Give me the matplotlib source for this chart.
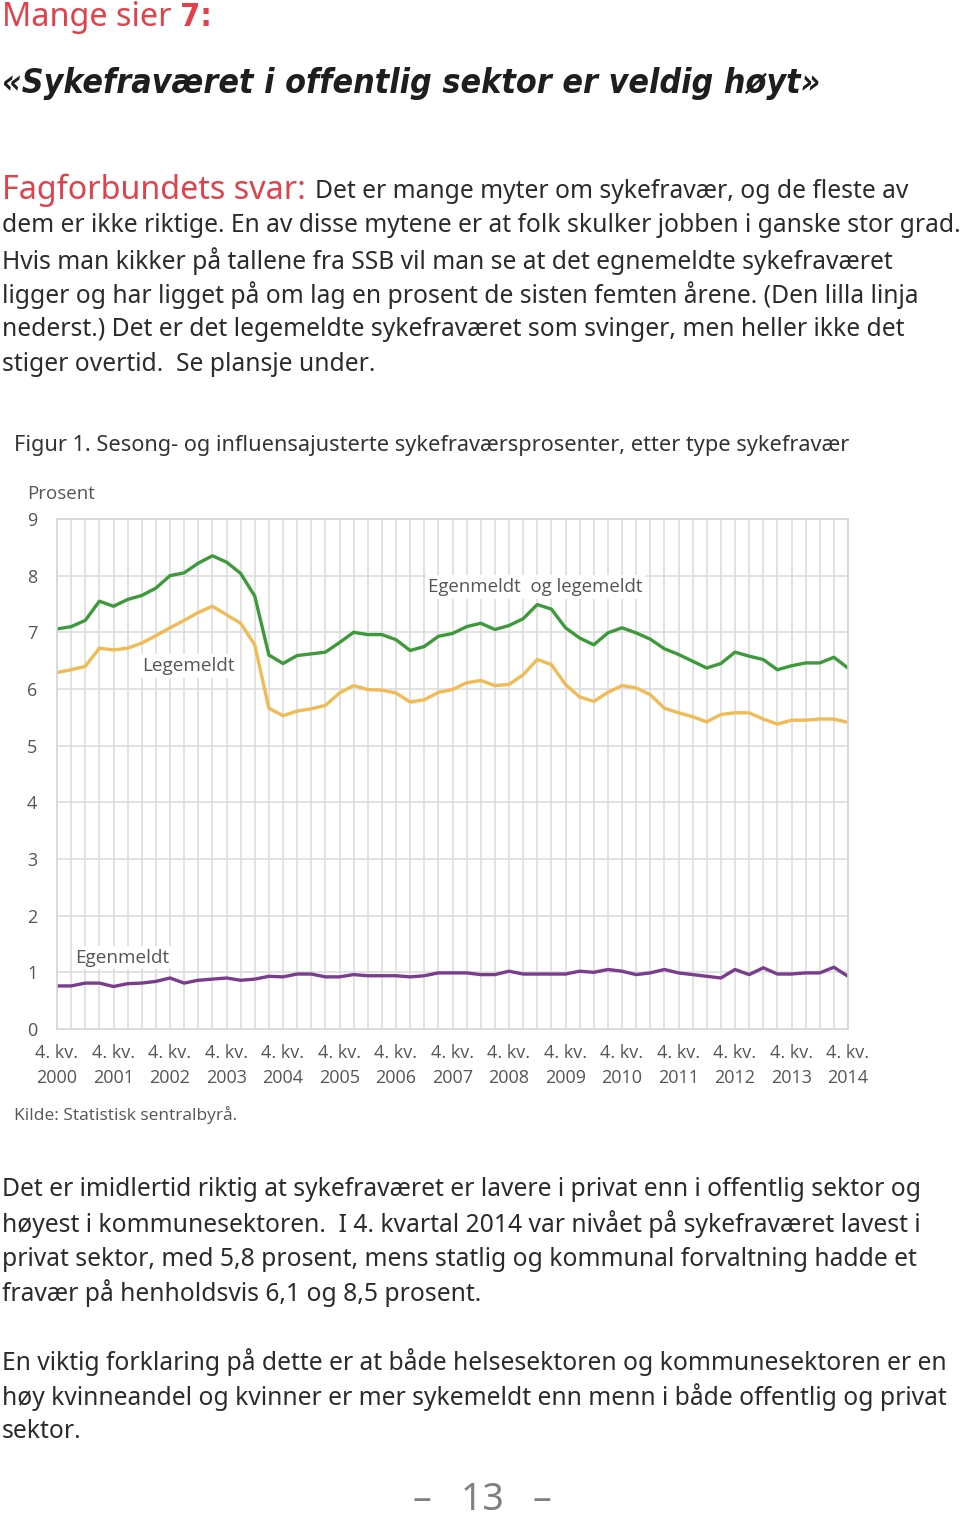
import os
import numpy as np
import matplotlib
matplotlib.use("Agg")
import matplotlib.pyplot as plt
import matplotlib.font_manager as fm

# Sesong- og influensajusterte sykefraværsprosenter, 4. kv. 2000 - 4. kv. 2014
egen_og_lege = [7.06, 7.10, 7.21, 7.55, 7.46, 7.58, 7.65, 7.78, 8.00, 8.05,
                8.22, 8.35, 8.24, 8.04, 7.64, 6.60, 6.45, 6.59, 6.62, 6.65,
                6.82, 7.00, 6.96, 6.96, 6.87, 6.68, 6.75, 6.93, 6.98, 7.10,
                7.16, 7.05, 7.12, 7.24, 7.49, 7.41, 7.08, 6.90, 6.78, 6.99,
                7.08, 6.99, 6.88, 6.71, 6.61, 6.49, 6.37, 6.45, 6.65, 6.58,
                6.52, 6.34, 6.41, 6.46, 6.46, 6.56, 6.37]
legemeldt = [6.29, 6.34, 6.40, 6.72, 6.69, 6.72, 6.81, 6.94, 7.08, 7.21,
             7.35, 7.46, 7.31, 7.16, 6.78, 5.66, 5.53, 5.61, 5.65, 5.71,
             5.93, 6.06, 5.99, 5.98, 5.93, 5.77, 5.81, 5.94, 5.99, 6.11,
             6.15, 6.06, 6.08, 6.25, 6.52, 6.43, 6.08, 5.86, 5.78, 5.94,
             6.06, 6.02, 5.90, 5.66, 5.58, 5.51, 5.42, 5.55, 5.58, 5.58,
             5.47, 5.38, 5.45, 5.45, 5.47, 5.47, 5.41]
egenmeldt = [0.76, 0.76, 0.81, 0.81, 0.75, 0.80, 0.81, 0.84, 0.90, 0.81,
             0.86, 0.88, 0.90, 0.86, 0.88, 0.93, 0.92, 0.97, 0.97, 0.92,
             0.92, 0.96, 0.94, 0.94, 0.94, 0.92, 0.94, 0.99, 0.99, 0.99,
             0.96, 0.96, 1.02, 0.97, 0.97, 0.97, 0.97, 1.02, 1.00, 1.05,
             1.02, 0.96, 0.99, 1.05, 0.99, 0.96, 0.93, 0.90, 1.05, 0.96,
             1.08, 0.97, 0.97, 0.99, 0.99, 1.09, 0.93]
years = list(range(2000, 2015))
xlabels = ["4. kv.\n%d" % y for y in years]
yticks = list(range(0, 10))

W, H = 960, 1517
RED = "#e2404a"
TXT = "#2b2b2b"
GREY = "#555555"
BODY = ["Noto Sans", "DejaVu Sans"]
CHART = ["Open Sans", "DejaVu Sans"]


def condensed_face(italic):
    # let etter en smal, fet skrift (Noto Sans / DejaVu Sans Condensed)
    for f in fm.fontManager.ttflist:
        name = os.path.basename(f.fname)
        if not (name.startswith("NotoSans-") or name.startswith("DejaVuSans")):
            continue
        if "Condensed" not in name or "Semi" in name or "Extra" in name:
            continue
        if "Bold" not in name:
            continue
        is_it = ("Italic" in name) or ("Oblique" in name)
        if is_it == italic:
            return fm.FontProperties(fname=f.fname)
    return fm.FontProperties(family=["Lato", "DejaVu Sans"], weight="bold",
                             style="italic" if italic else "normal")


def fy(py):
    return 1 - py / H


def fx(px):
    return px / W


fig = plt.figure(figsize=(W / 100, H / 100), dpi=100)
fig.patch.set_facecolor("white")
rend = fig.canvas.get_renderer()


def width(t):
    return t.get_window_extent(rend).width


def fit(t, target):
    # skaler fontstørrelse så teksten blir like bred som i originalen
    t.set_fontsize(t.get_fontsize() * target / width(t))
    return t.get_fontsize()


def txt(px, py, s, **kw):
    if "fontproperties" not in kw:
        kw.setdefault("family", BODY)
        kw.setdefault("stretch", "condensed")
    kw.setdefault("va", "center")
    kw.setdefault("ha", "left")
    return fig.text(fx(px), fy(py), s, **kw)


# overskrift
t1 = txt(2, 18, "Mange sier ", color=RED, fontsize=22)
fit(t1, 178)
fp7 = condensed_face(False)
fp7.set_size(t1.get_fontsize())
txt(2 + width(t1), 18, "7:", color=RED, fontproperties=fp7)
fpt = condensed_face(True)
fpt.set_size(29)
tt = txt(2, 84, "«Sykefraværet i offentlig sektor er veldig høyt»",
         color="#1e1e1e", fontproperties=fpt)
fit(tt, 818)

# første avsnitt
fs = txt(2, 190, "Fagforbundets svar:", color=RED, fontsize=23)
fit(fs, 304)
para1 = [
    "dem er ikke riktige. En av disse mytene er at folk skulker jobben i ganske stor grad.",
    "Hvis man kikker på tallene fra SSB vil man se at det egnemeldte sykefraværet",
    "ligger og har ligget på om lag en prosent de sisten femten årene. (Den lilla linja",
    "nederst.) Det er det legemeldte sykefraværet som svinger, men heller ikke det",
    "stiger overtid.  Se plansje under.",
]
lines = [txt(2, 226 + 34.6 * k, s, color=TXT, fontsize=18) for k, s in enumerate(para1)]
body_size = fit(lines[0], 956)
for t in lines:
    t.set_fontsize(body_size)
txt(315, 192, "Det er mange myter om sykefravær, og de fleste av", color=TXT,
    fontsize=body_size)

# figurtittel
ft = txt(14, 446, "Figur 1. Sesong- og influensajusterte sykefraværsprosenter, etter type sykefravær",
         color="#333333", fontsize=15)
fit(ft, 834)
txt(27, 494, "Prosent", color=GREY, fontsize=13.5, family=CHART, stretch="normal")

# diagram
ax = fig.add_axes([fx(57), fy(1029), fx(848 - 57), (1029 - 519) / H])
x = np.arange(len(egen_og_lege))
ax.plot(x, egen_og_lege, color="#3d9a3a", lw=2.4, solid_joinstyle="round")
ax.plot(x, legemeldt, color="#f0bb55", lw=2.4, solid_joinstyle="round")
ax.plot(x, egenmeldt, color="#7a3d8e", lw=2.4, solid_joinstyle="round")

ax.set_xlim(0, len(x) - 1)
ax.set_ylim(0, 9)
ax.set_xticks(x, minor=True)
ax.set_xticks(x[::4])
ax.set_xticklabels(xlabels, family=CHART, fontsize=13, color=GREY,
                   linespacing=1.45)
ax.set_yticks(yticks)
ax.set_yticklabels([str(v) for v in yticks], family=CHART, fontsize=13,
                   color=GREY)
ax.tick_params(axis="both", which="both", length=0)
ax.tick_params(axis="x", pad=11)
ax.tick_params(axis="y", pad=21.6)
for lab in ax.get_yticklabels():
    lab.set_horizontalalignment("left")
ax.grid(True, which="both", axis="x", color="#dddddd", lw=1.2)
ax.grid(True, which="major", axis="y", color="#dddddd", lw=1.2)
ax.set_axisbelow(True)
for s in ax.spines.values():
    s.set_color("#d6d6d6")
    s.set_linewidth(1.2)

box = dict(facecolor="white", edgecolor="none", pad=2)
ax.text(26.3, 7.8, "Egenmeldt  og legemeldt", color=GREY, fontsize=13.4,
        family=CHART, va="center", ha="left", bbox=box, zorder=3)
ax.text(6.0, 6.4, "Legemeldt", color=GREY, fontsize=13.6,
        family=CHART, va="center", ha="left", bbox=box, zorder=3)
ax.text(1.3, 1.26, "Egenmeldt", color=GREY, fontsize=13.6,
        family=CHART, va="center", ha="left", bbox=box, zorder=3)

txt(14, 1115, "Kilde: Statistisk sentralbyrå.", color=GREY, fontsize=12.5,
    family=CHART, stretch="normal")

# andre avsnitt
para2 = [
    "Det er imidlertid riktig at sykefraværet er lavere i privat enn i offentlig sektor og",
    "høyest i kommunesektoren.  I 4. kvartal 2014 var nivået på sykefraværet lavest i",
    "privat sektor, med 5,8 prosent, mens statlig og kommunal forvaltning hadde et",
    "fravær på henholdsvis 6,1 og 8,5 prosent.",
    "",
    "En viktig forklaring på dette er at både helsesektoren og kommunesektoren er en",
    "høy kvinneandel og kvinner er mer sykemeldt enn menn i både offentlig og privat",
    "sektor.",
]
for k, s in enumerate(para2):
    txt(2, 1190 + 34.5 * k, s, color=TXT, fontsize=body_size)

fig.text(0.502, fy(1500), "–   13   –", color="#808080", fontsize=27,
         family=BODY, va="center", ha="center")

fig.savefig("out.png", dpi=100, facecolor="white")
